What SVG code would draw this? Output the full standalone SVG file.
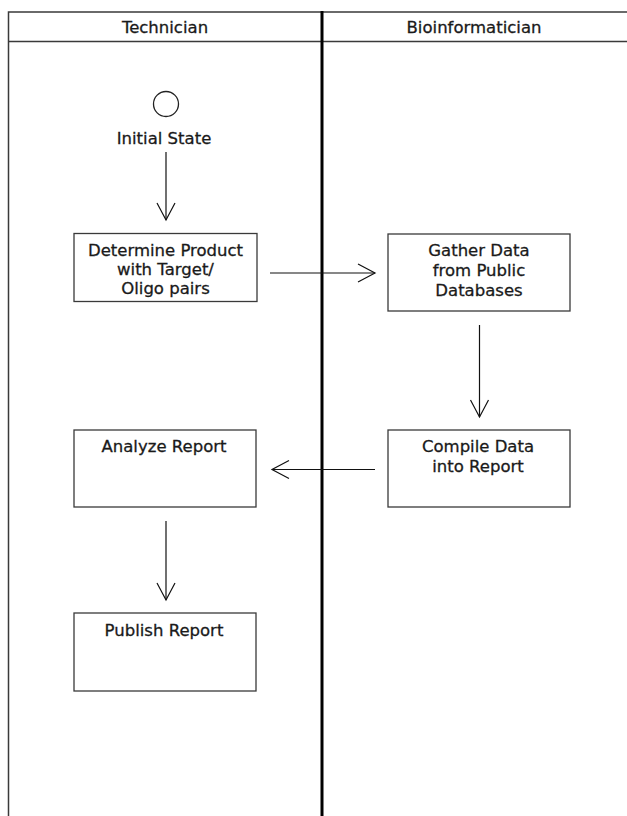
<svg xmlns="http://www.w3.org/2000/svg" width="627" height="816" viewBox="0 0 627 816">
  <style>
    .frame { fill: none; stroke: #3a3a3a; stroke-width: 1.5; }
    .divider { stroke: #000; stroke-width: 3; }
    .box { fill: #fff; stroke: #3a3a3a; stroke-width: 1.3; }
    .edge { fill: none; stroke: #111; stroke-width: 1.2; }
    .head { fill: none; stroke: #111; stroke-width: 1.2; }
    text { font-family: "DejaVu Sans", "Liberation Sans", sans-serif; font-size: 16.5px; fill: #1a1a1a; stroke: #1a1a1a; stroke-width: 0.3; text-anchor: middle; }
    .lane { font-size: 16.5px; }
  </style>

  <rect width="627" height="816" fill="#fff"/>

  <!-- swimlane frame -->
  <g id="lanes">
    <path class="frame" d="M627 12 H8.5 V816"/>
    <line class="frame" x1="8.5" y1="41.5" x2="627" y2="41.5"/>
    <line class="divider" x1="322" y1="11" x2="322" y2="816"/>
    <text class="lane" x="165" y="32.5">Technician</text>
    <text class="lane" x="474" y="32.5">Bioinformatician</text>
  </g>

  <!-- connectors -->
  <g id="connectors">
    <line class="edge" x1="166" y1="152" x2="166" y2="220"/>
    <path class="head" d="M157 203 L166 220 L175 203"/>

    <line class="edge" x1="270" y1="273" x2="375" y2="273"/>
    <path class="head" d="M358 264 L375 273 L358 282"/>

    <line class="edge" x1="479.5" y1="325" x2="479.5" y2="417"/>
    <path class="head" d="M470.5 400 L479.5 417 L488.5 400"/>

    <line class="edge" x1="375" y1="469.5" x2="272" y2="469.5"/>
    <path class="head" d="M289 460.5 L272 469.5 L289 478.5"/>

    <line class="edge" x1="166" y1="521" x2="166" y2="600"/>
    <path class="head" d="M157 583 L166 600 L175 583"/>
  </g>

  <g id="initial">
    <circle cx="166" cy="104" r="12.5" fill="#fff" stroke="#222" stroke-width="1.3"/>
    <text x="164" y="144">Initial State</text>
  </g>

  <g id="determine">
    <rect class="box" x="74" y="233.5" width="183" height="68"/>
    <text x="165.5" y="256">Determine Product</text>
    <text x="165.5" y="275">with Target/</text>
    <text x="165.5" y="294">Oligo pairs</text>
  </g>

  <g id="gather">
    <rect class="box" x="388" y="234" width="182" height="77"/>
    <text x="479" y="256">Gather Data</text>
    <text x="479" y="276">from Public</text>
    <text x="479" y="296">Databases</text>
  </g>

  <g id="compile">
    <rect class="box" x="388" y="430" width="182" height="77"/>
    <text x="478" y="452">Compile Data</text>
    <text x="478" y="472">into Report</text>
  </g>

  <g id="analyze">
    <rect class="box" x="74" y="430" width="182" height="77"/>
    <text x="164" y="452">Analyze Report</text>
  </g>

  <g id="publish">
    <rect class="box" x="74" y="613" width="182" height="78"/>
    <text x="164" y="636">Publish Report</text>
  </g>
</svg>
